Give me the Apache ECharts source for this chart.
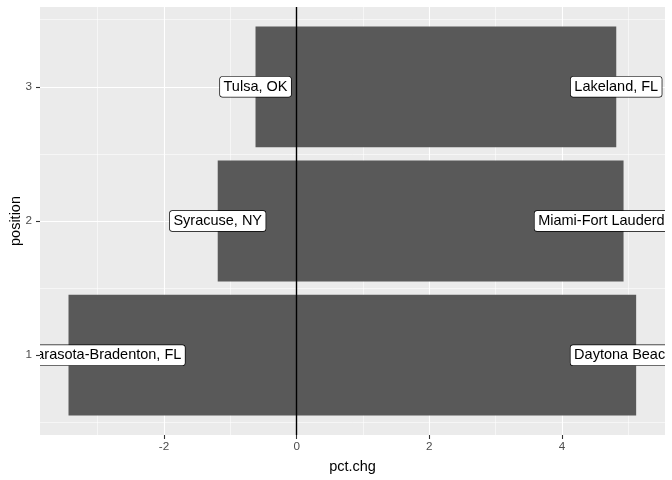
<!DOCTYPE html>
<html>
<head>
<meta charset="utf-8">
<script src="https://cdn.jsdelivr.net/npm/echarts@6/dist/echarts.min.js"></script>
<style>
  html, body { margin: 0; padding: 0; background: #fff; }
  #chart { width: 672px; height: 480px; }
</style>
</head>
<body>
<div id="chart"></div>
<script>
// data
var positions = [1, 2, 3]
var negChg = [-3.44, -1.19, -0.62]
var posChg = [5.12, 4.93, 4.82]
var negLabels = ['North Port-Sarasota-Bradenton, FL', 'Syracuse, NY', 'Tulsa, OK']
var posLabels = ['Daytona Beach, FL', 'Miami-Fort Lauderdale, FL', 'Lakeland, FL']

var xMajor = [-2, 0, 2, 4]
var xMinor = [-3, -1, 1, 3, 5]
var yMajor = [1, 2, 3]
var yMinor = [0.5, 1.5, 2.5, 3.5]

var barData = []
var labelData = []
positions.forEach(function(p, i) {
  barData.push([negChg[i], p])
  barData.push([posChg[i], p])
  labelData.push([negChg[i], p, negLabels[i]])
  labelData.push([posChg[i], p, posLabels[i]])
})

var FONT = '"Liberation Sans", Arial, sans-serif'
var chart = echarts.init(document.getElementById('chart'))

function renderBar(params, api) {
  var v = api.value(0)
  var p = api.value(1)
  var a = api.coord([0, p + 0.45])
  var b = api.coord([v, p - 0.45])
  return {
    type: 'rect',
    shape: {
      x: Math.min(a[0], b[0]),
      y: a[1],
      width: Math.abs(b[0] - a[0]),
      height: b[1] - a[1]
    },
    style: { fill: '#595959' }
  }
}

function renderLabel(params, api) {
  var pt = api.coord([api.value(0), api.value(1)])
  return {
    type: 'text',
    x: pt[0],
    y: pt[1],
    style: {
      text: labelData[params.dataIndex][2],
      align: 'center',
      verticalAlign: 'middle',
      font: '14.5px ' + FONT,
      fill: '#000',
      backgroundColor: '#fff',
      borderColor: '#000',
      borderWidth: 0.7,
      borderRadius: 2.5,
      padding: [3, 3.5, 2, 3.5]
    }
  }
}

// invisible axis line, ticks still drawn at the panel edge
var noLine = { show: true, onZero: false, lineStyle: { color: '#333', opacity: 0 } }
var tickStyle = { color: '#333', width: 1.1 }

chart.setOption({
  animation: false,
  grid: {
    left: 40,
    right: 7,
    top: 7,
    bottom: 45,
    containLabel: false,
    outerBoundsMode: 'none',
    show: true,
    backgroundColor: '#EBEBEB',
    borderWidth: 0
  },
  xAxis: [
    {
      type: 'value',
      min: -3.87,
      max: 5.555,
      name: 'pct.chg',
      nameLocation: 'middle',
      nameGap: 24,
      nameMoveOverlap: false,
      nameTextStyle: { color: '#000', fontSize: 14.5, fontFamily: FONT },
      axisLine: noLine,
      axisTick: { show: true, length: 4, customValues: xMajor, lineStyle: tickStyle },
      axisLabel: { customValues: xMajor, color: '#4D4D4D', fontSize: 11.7, fontFamily: FONT, margin: 6 },
      splitLine: { show: true, lineStyle: { color: '#fff', width: 1.1 } }
    },
    {
      type: 'value',
      min: -3.87,
      max: 5.555,
      axisLine: { show: false, onZero: false },
      axisTick: { show: false, customValues: xMinor },
      axisLabel: { show: false, customValues: xMinor },
      splitLine: { show: true, lineStyle: { color: '#fff', width: 0.55 } }
    }
  ],
  yAxis: [
    {
      type: 'value',
      min: 0.405,
      max: 3.595,
      name: 'position',
      nameLocation: 'middle',
      nameGap: 17,
      nameMoveOverlap: false,
      nameTextStyle: { color: '#000', fontSize: 14.5, fontFamily: FONT },
      axisLine: noLine,
      axisTick: { show: true, length: 4, customValues: yMajor, lineStyle: tickStyle },
      axisLabel: { customValues: yMajor, color: '#4D4D4D', fontSize: 11.7, fontFamily: FONT, margin: 8 },
      splitLine: { show: true, lineStyle: { color: '#fff', width: 1.1 } }
    },
    {
      type: 'value',
      min: 0.405,
      max: 3.595,
      axisLine: { show: false, onZero: false },
      axisTick: { show: false, customValues: yMinor },
      axisLabel: { show: false, customValues: yMinor },
      splitLine: { show: true, lineStyle: { color: '#fff', width: 0.55 } }
    }
  ],
  series: [
    {
      type: 'custom',
      name: 'bars',
      renderItem: renderBar,
      data: barData,
      clip: true,
      markLine: {
        silent: true,
        symbol: 'none',
        label: { show: false },
        lineStyle: { color: '#000', width: 1.4, type: 'solid' },
        data: [{ xAxis: 0 }]
      }
    },
    {
      type: 'custom',
      name: 'labels',
      renderItem: renderLabel,
      data: labelData,
      clip: true,
      z: 5
    }
  ]
})
</script>
</body>
</html>
